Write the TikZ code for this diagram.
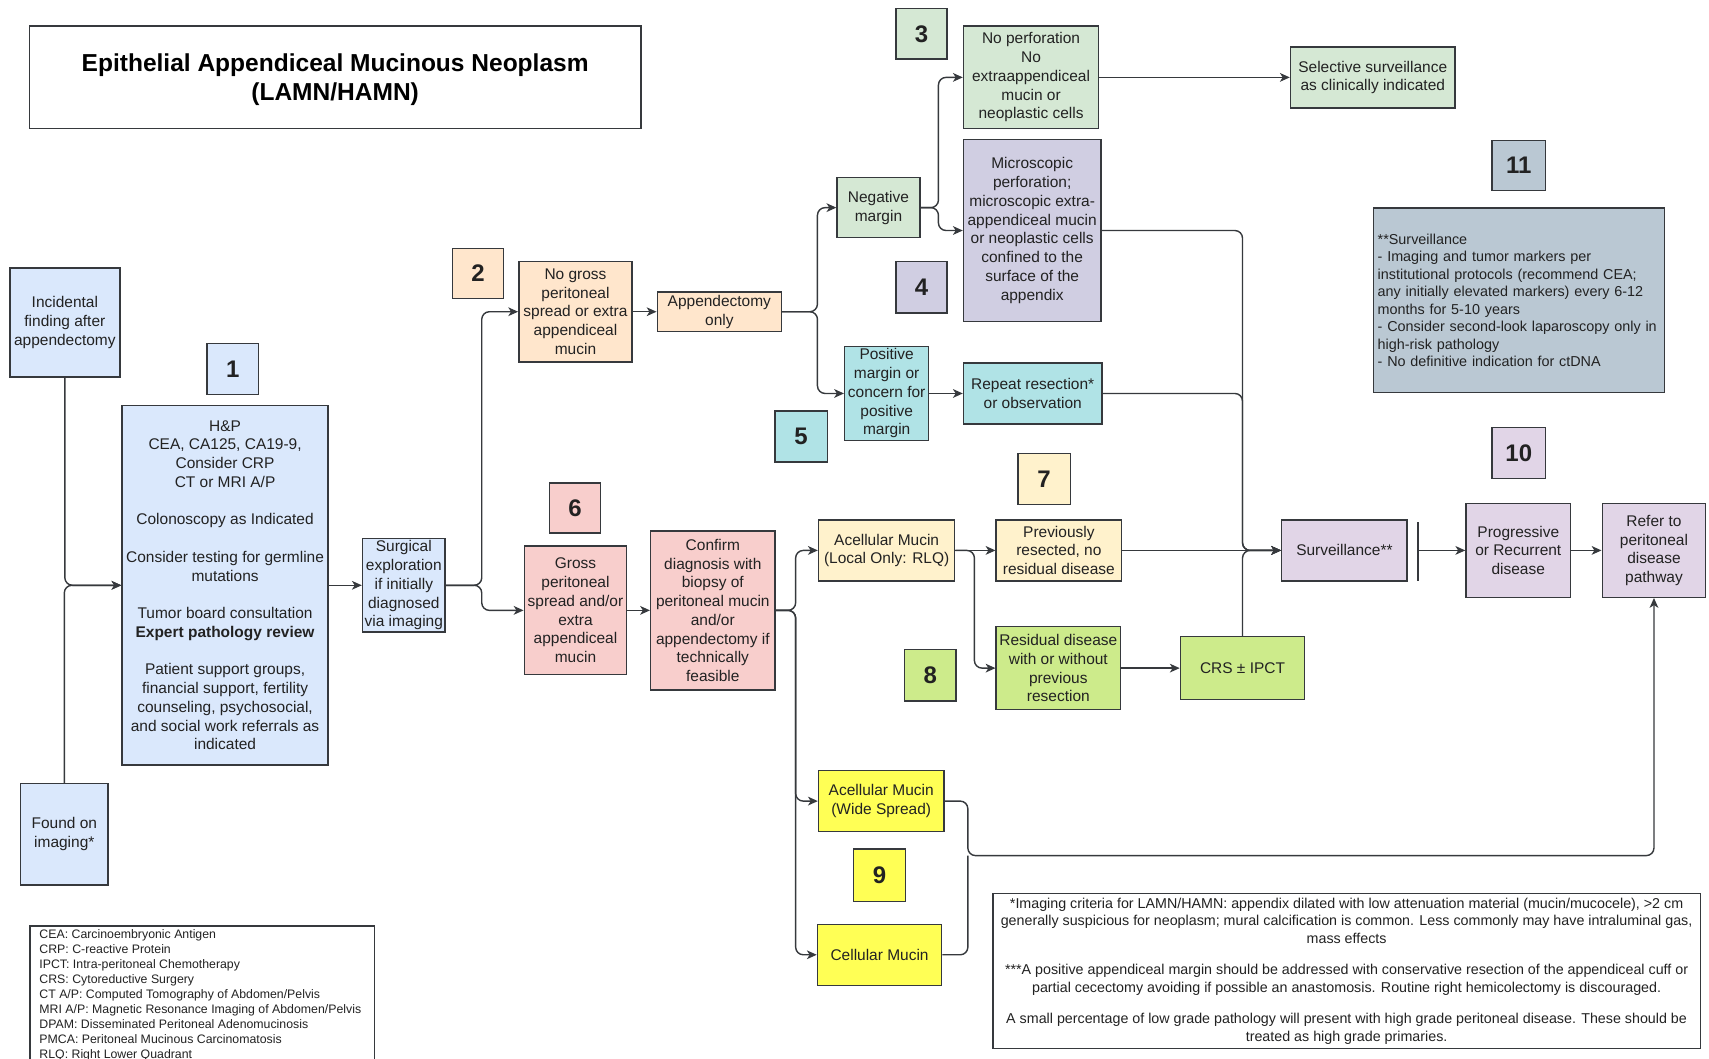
\documentclass[tikz,border=0pt]{standalone}
\usepackage{fontspec}
\setmainfont{Liberation Sans}
\usetikzlibrary{arrows.meta}
\definecolor{cBlue}{HTML}{DAE8FC}
\definecolor{cPeach}{HTML}{FFE6CC}
\definecolor{cGreen}{HTML}{D5E8D4}
\definecolor{cPurple}{HTML}{D0CEE2}
\definecolor{cTeal}{HTML}{B0E3E6}
\definecolor{cPink}{HTML}{F8CECC}
\definecolor{cLYellow}{HTML}{FFF2CC}
\definecolor{cGreenB}{HTML}{CDEB8B}
\definecolor{cYellow}{HTML}{FFFF55}
\definecolor{cLilac}{HTML}{E1D5E7}
\definecolor{cGray}{HTML}{BAC8D3}
\definecolor{lineC}{HTML}{36393D}
\definecolor{txtC}{HTML}{222222}
\newcommand\fsA{\fontsize{14.2}{17.2}\selectfont}
\newcommand\fsNote{\fontsize{13.2}{16}\selectfont}
\newcommand\fsLeg{\fontsize{11.3}{13.75}\selectfont}
\newcommand\fsFoot{\fontsize{13.1}{16}\selectfont}
\newcommand\fsNum{\fontsize{22}{26}\selectfont\bfseries}
\newcommand\fsTitle{\fontsize{22.5}{27}\selectfont\bfseries}
\tikzset{
  bx/.style={draw=lineC, line width=1.3pt, align=center, inner sep=2pt, font=\fsA, text=txtC},
  numbox/.style={bx, font=\fsNum},
  arr/.style={draw=lineC, line width=1.3pt, rounded corners=7pt, -{Stealth[length=9pt,width=8pt,inset=2.5pt]}},
  ln/.style={draw=lineC, line width=1.3pt, rounded corners=7pt},
}
\newcommand\mkbox[7]{\node[bx, fill=#6, minimum width={(#4-#2)*1pt}, minimum height={(#5-#3)*1pt}] (#1) at ({(#2+#4)/2},{(#3+#5)/2}) {#7};}
\newcommand\mknum[7]{\node[numbox, fill=#6, minimum width={(#4-#2)*1pt}, minimum height={(#5-#3)*1pt}] (#1) at ({(#2+#4)/2},{(#3+#5)/2}) {#7};}
\begin{document}
\begin{tikzpicture}[x=1pt,y=-1pt]
\fill[white] (0,0) rectangle (1568,971);
\useasboundingbox (0,0) rectangle (1568,971);

\draw[draw=lineC, line width=1.3pt] (27,24) rectangle (588,118);
\node[bx, draw=none, font=\fsTitle, text=black] (title) at (307.5,73) {Epithelial Appendiceal Mucinous Neoplasm\\(LAMN/HAMN)};
\mkbox{inc}{9}{246}{110}{346}{cBlue}{Incidental\\finding after\\appendectomy}
\mkbox{found}{19}{719}{99}{812}{cBlue}{Found on\\imaging*}
\mknum{n1}{190}{315}{237}{362}{cBlue}{1}
\mkbox{hp}{112}{372}{301}{702}{cBlue}{H\&P\\CEA, CA125, CA19-9,\\Consider CRP\\CT or MRI A/P\\[17.2pt]Colonoscopy as Indicated\\[17.2pt]Consider testing for germline\\mutations\\[17.2pt]Tumor board consultation\\\textbf{Expert pathology review}\\[17.2pt]Patient support groups,\\financial support, fertility\\counseling, psychosocial,\\and social work referrals as\\indicated}
\mkbox{surg}{333}{494}{408}{580}{cBlue}{Surgical\\exploration\\if initially\\diagnosed\\via imaging}

\mknum{n2}{415}{228}{462}{274}{cPeach}{2}
\mkbox{nogross}{476}{240}{580}{332}{cPeach}{No gross\\peritoneal\\spread or extra\\appendiceal\\mucin}
\mkbox{appx}{603}{268}{717}{304}{cPeach}{Appendectomy\\only}

\mknum{n3}{822}{8}{869}{54}{cGreen}{3}
\mkbox{nopf}{884}{24}{1008}{118}{cGreen}{No perforation\\No\\extraappendiceal\\mucin or\\neoplastic cells}
\mkbox{neg}{768}{163}{844}{218}{cGreen}{Negative\\margin}
\mkbox{sel}{1184}{43}{1335}{99}{cGreen}{Selective surveillance\\as clinically indicated}
\mkbox{micro}{884}{128}{1010}{295}{cPurple}{Microscopic\\perforation;\\microscopic extra-\\appendiceal mucin\\or neoplastic cells\\confined to the\\surface of the\\appendix}
\mknum{n4}{822}{240}{869}{287}{cPurple}{4}

\mkbox{pos}{775}{318}{852}{404}{cTeal}{Positive\\margin or\\concern for\\positive\\margin}
\mknum{n5}{711}{377}{759}{424}{cTeal}{5}
\mkbox{rep}{884}{333}{1011}{389}{cTeal}{Repeat resection*\\or observation}

\mknum{n6}{504}{443}{551}{489}{cPink}{6}
\mkbox{gross}{481}{501}{575}{619}{cPink}{Gross\\peritoneal\\spread and/or\\extra\\appendiceal\\mucin}
\mkbox{conf}{597}{487}{711}{633}{cPink}{Confirm\\diagnosis with\\biopsy of\\peritoneal mucin\\and/or\\appendectomy if\\technically\\feasible}

\mkbox{acl}{751}{477}{876}{533}{cLYellow}{Acellular Mucin\\(Local Only: RLQ)}
\mknum{n7}{934}{416}{982}{463}{cLYellow}{7}
\mkbox{prev}{914}{477}{1029}{533}{cLYellow}{Previously\\resected, no\\residual disease}
\mkbox{resid}{914}{575}{1028}{651}{cGreenB}{Residual disease\\with or without\\previous\\resection}
\mknum{n8}{830}{596}{877}{643}{cGreenB}{8}
\mkbox{crs}{1083}{584}{1197}{642}{cGreenB}{CRS ± IPCT}

\mkbox{surv}{1176}{477}{1291}{533}{cLilac}{Surveillance**}
\mkbox{prog}{1345}{462}{1441}{548}{cLilac}{Progressive\\or Recurrent\\disease}
\mknum{n10}{1369}{392}{1418}{439}{cLilac}{10}
\mkbox{refer}{1470}{462}{1565}{548}{cLilac}{Refer to\\peritoneal\\disease\\pathway}

\mkbox{wide}{751}{707}{866}{763}{cYellow}{Acellular Mucin\\(Wide Spread)}
\mknum{n9}{783}{779}{831}{827}{cYellow}{9}
\mkbox{cell}{750}{848}{864}{904}{cYellow}{Cellular Mucin}

\mknum{n11}{1369}{129}{1418}{175}{cGray}{11}
\node[bx, fill=cGray, minimum width=267pt, minimum height=169pt, text width=259pt, align=left, font=\fsNote] (note) at (1393.5,275.5) {**Surveillance\\- Imaging and tumor markers per\\institutional protocols (recommend CEA;\\any initially elevated markers) every 6-12\\months for 5-10 years\\- Consider second-look laparoscopy only in\\high-risk pathology\\- No definitive indication for ctDNA};

\node[bx, fill=white, minimum width=316pt, minimum height=131pt, anchor=north west] (legend) at (27,849) {};
\node[anchor=north west, align=left, font=\fsLeg, text=txtC, inner sep=0pt] (legtxt) at (36,852.5) {CEA: Carcinoembryonic Antigen\\CRP: C-reactive Protein\\IPCT: Intra-peritoneal Chemotherapy\\CRS: Cytoreductive Surgery\\CT A/P: Computed Tomography of Abdomen/Pelvis\\MRI A/P: Magnetic Resonance Imaging of Abdomen/Pelvis\\DPAM: Disseminated Peritoneal Adenomucinosis\\PMCA: Peritoneal Mucinous Carcinomatosis\\RLQ: Right Lower Quadrant};

\node[bx, fill=white, minimum width=649pt, minimum height=142pt, font=\fsFoot] (foot) at (1235.5,891) {*Imaging criteria for LAMN/HAMN: appendix dilated with low attenuation material (mucin/mucocele), >2 cm\\generally suspicious for neoplasm; mural calcification is common. Less commonly may have intraluminal gas,\\mass effects\\[13pt]***A positive appendiceal margin should be addressed with conservative resection of the appendiceal cuff or\\partial cecectomy avoiding if possible an anastomosis. Routine right hemicolectomy is discouraged.\\[13pt]A small percentage of low grade pathology will present with high grade peritoneal disease. These should be\\treated as high grade primaries.};

% connectors
\draw[arr] (inc.south) |- (hp.west);
\draw[arr] (found.north) |- (hp.west);
\draw[arr] (hp.east) -- (surg.west);
\draw[arr] (surg.east) -- (442,537) |- (nogross.west);
\draw[arr] (surg.east) -- (442,537) |- (gross.west);
\draw[arr] (nogross.east) -- (appx.west);
\draw[arr] (appx.east) -- (750,286) |- (neg.west);
\draw[arr] (appx.east) -- (750,286) |- (pos.west);
\draw[arr] (neg.east) -- (861,190.5) |- (nopf.west);
\draw[arr] (neg.east) -- (861,190.5) |- (micro.west);
\draw[arr] (nopf.east) -- (sel.west);
\draw[arr] (micro.east) -| (1140,505) -- (surv.west);
\draw[arr] (rep.east) -| (1140,505) -- (surv.west);
\draw[arr] (prev.east) -- (surv.west);
\draw[arr] (crs.north) |- (surv.west);
\draw[arr] (pos.east) -- (rep.west);
\draw[arr] (gross.east) -- (conf.west);
\draw[arr] (conf.east) -- (730,560) |- (acl.west);
\draw[arr] (conf.east) -- (730,560) |- (wide.west);
\draw[arr] (conf.east) -- (730,560) |- (cell.west);
\draw[arr] (acl.east) -- (prev.west);
\draw[arr] (acl.east) -- (894,505) |- (resid.west);
\draw[arr] (resid.east) -- (crs.west);
\coordinate (bar) at (1301,505);
\draw[draw=lineC, line width=1.3pt] (1301,479) -- (1301,533);
\draw[arr] (bar) -- (prog.west);
\draw[arr] (prog.east) -- (refer.west);
\coordinate (jn) at (888,785);
\draw[arr] (wide.east) -| (jn) -| (refer.south);
\draw[ln] (cell.east) -| (jn);
\end{tikzpicture}
\end{document}
